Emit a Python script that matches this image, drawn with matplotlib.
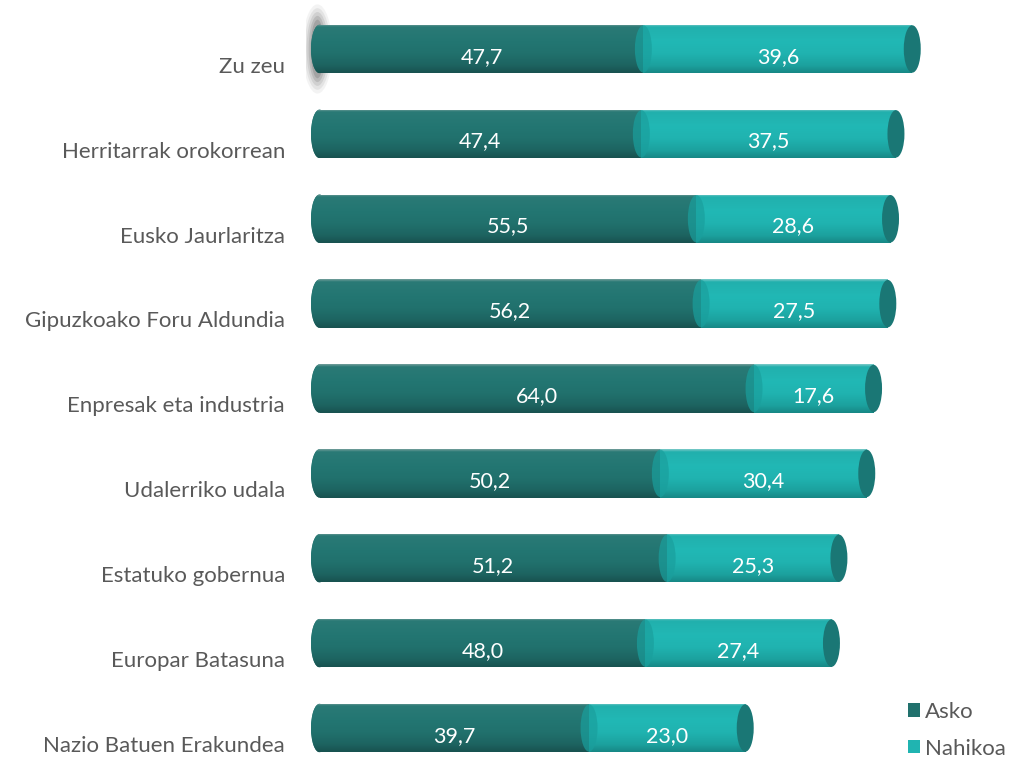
import numpy as np
import matplotlib
matplotlib.use("Agg")
import matplotlib.pyplot as plt
from matplotlib.patches import Ellipse, Patch
from matplotlib.colors import LinearSegmentedColormap

categories = ["Zu zeu", "Herritarrak orokorrean", "Eusko Jaurlaritza",
              "Gipuzkoako Foru Aldundia", "Enpresak eta industria", "Udalerriko udala",
              "Estatuko gobernua", "Europar Batasuna", "Nazio Batuen Erakundea"]
asko = [47.7, 47.4, 55.5, 56.2, 64.0, 50.2, 51.2, 48.0, 39.7]
nahikoa = [39.6, 37.5, 28.6, 27.5, 17.6, 30.4, 25.3, 27.4, 23.0]
series = ["Asko", "Nahikoa"]

DARK = "#21716d"
LIGHT = "#20b4b1"
plt.rcParams["font.family"] = ["Lato", "DejaVu Sans"]

# vertical shading for the cylinder look (top -> bottom)
cm_dark = LinearSegmentedColormap.from_list(
    "d", [(0, "#6f9c99"), (0.05, "#2a7a76"), (0.35, "#237672"), (0.6, "#21716d"),
          (0.85, "#1d6360"), (1, "#185250")])
cm_light = LinearSegmentedColormap.from_list(
    "l", [(0, "#78c9c7"), (0.05, "#22b0ad"), (0.35, "#21b8b5"), (0.6, "#20b3b0"),
          (0.85, "#1ca19e"), (1, "#178886")])
grad = np.linspace(0, 1, 96).reshape(-1, 1)

H = 0.57
CAPW = 2.5
XLIM = (-2, 100)
YLIM = (8.353, -0.577)

fig = plt.figure(figsize=(10.14, 7.58), dpi=100)
ax = fig.add_axes([0.3017, 0.0, 0.683, 1.0])
ax.axis("off")

y = np.arange(len(categories))


def shade(bars, cmap):
    for b in bars:
        x0, y0 = b.get_x(), b.get_y()
        w, h = b.get_width(), b.get_height()
        im = ax.imshow(grad, cmap=cmap, aspect="auto", extent=(x0, x0 + w, y0 + h, y0),
                       zorder=b.get_zorder() + 0.1, interpolation="bilinear")
        im.set_clip_path(b)


# soft grey shadow at the left end of the first bar
for k, a in enumerate([0.08, 0.12, 0.16, 0.22, 0.3]):
    ax.add_patch(Ellipse((-0.3, y[0]), 4.4 - 0.6 * k, 1.05 - 0.09 * k,
                         facecolor="#707070", edgecolor="none", alpha=a, zorder=0.5))

# left rounded ends
for yi in y:
    e = Ellipse((0, yi), CAPW, H, facecolor=DARK, edgecolor="none", zorder=1)
    ax.add_patch(e)
    im = ax.imshow(grad, cmap=cm_dark, aspect="auto", extent=(-CAPW, CAPW, yi + H / 2, yi - H / 2),
                   zorder=1.1, interpolation="bilinear")
    im.set_clip_path(e)

b1 = ax.barh(y, asko, height=H, color=DARK, zorder=2)
shade(b1, cm_dark)
b2 = ax.barh(y, nahikoa, left=asko, height=H, color=LIGHT, zorder=3)
shade(b2, cm_light)

# faces at the segment boundary and the right end
for yi, a, n in zip(y, asko, nahikoa):
    ax.add_patch(Ellipse((a, yi), CAPW, H * 0.98, facecolor="#1a9f9d", edgecolor="none",
                         alpha=0.7, zorder=3.5))
    ax.add_patch(Ellipse((a + n, yi), CAPW, H * 0.98, facecolor="#1a7775", edgecolor="none",
                         zorder=3.6))
    ax.text(a / 2, yi + 0.09, f"{a:.1f}".replace(".", ","), ha="center", va="center",
            color="white", fontsize=15.5, zorder=5)
    ax.text(a + n / 2, yi + 0.09, f"{n:.1f}".replace(".", ","), ha="center", va="center",
            color="white", fontsize=15.5, zorder=5)

for yi, c in zip(y, categories):
    ax.text(-5.1, yi + 0.21, c, ha="right", va="center", color="#595959", fontsize=16,
            clip_on=False)

ax.set_xlim(*XLIM)
ax.set_ylim(*YLIM)

handles = [Patch(facecolor=DARK, label=series[0]), Patch(facecolor=LIGHT, label=series[1])]
fig.legend(handles=handles, loc="upper left", bbox_to_anchor=(0.895, 0.074), frameon=False,
           fontsize=16, handlelength=0.55, handleheight=0.55, handletextpad=0.25,
           labelspacing=0.75, labelcolor="#595959", borderpad=0.0, borderaxespad=0.0)

fig.savefig("out.png", dpi=100)
